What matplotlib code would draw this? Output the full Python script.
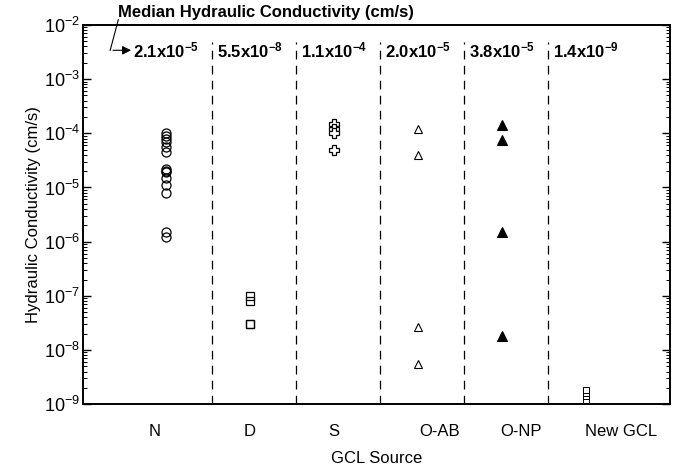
import numpy as np
import matplotlib.pyplot as plt
from matplotlib.ticker import LogLocator, NullFormatter
import matplotlib.transforms as mtransforms

plt.rcParams['font.family'] = ['Liberation Sans', 'DejaVu Sans']
plt.rcParams['mathtext.fontset'] = 'custom'
plt.rcParams['mathtext.rm'] = 'Liberation Sans'
plt.rcParams['mathtext.bf'] = 'Liberation Sans:bold'
plt.rcParams['mathtext.it'] = 'Liberation Sans:italic'

# data (cm/s)
sources = ['N', 'D', 'S', 'O-AB', 'O-NP', 'New GCL']
k_N = [1.0e-4, 9.0e-5, 8.0e-5, 7.0e-5, 5.5e-5, 4.5e-5,
       2.2e-5, 2.0e-5, 1.9e-5, 1.5e-5, 1.1e-5, 8.0e-6,
       1.5e-6, 1.2e-6]
k_D = [1.0e-7, 8.0e-8, 3.0e-8, 3.0e-8]
k_S = [1.5e-4, 1.2e-4, 1.0e-4, 5.0e-5]
k_OAB = [1.2e-4, 4.0e-5, 2.7e-8, 5.5e-9]
k_ONP = [1.4e-4, 7.5e-5, 1.5e-6, 1.8e-8]
k_new = [1.2e-9, 1.4e-9, 1.6e-9, 1.85e-9]
medians = ['2.1', '5.5', '1.1', '2.0', '3.8', '1.4']
median_exp = ['-5', '-8', '-4', '-5', '-5', '-9']

xpos = np.arange(1, len(sources) + 1)
# the category names are not quite centred under the points in the original
label_pos = xpos + np.array([-0.13, 0.0, 0.0, 0.26, 0.23, 0.42])

fig = plt.figure(figsize=(6.76, 4.70), dpi=100)
ax = fig.add_axes([0.123, 0.14, 0.868, 0.807])

styles = [
    dict(marker='o', mfc='none', mec='k', ms=6.5, mew=0.9),
    dict(marker='s', mfc='none', mec='k', ms=6, mew=0.9),
    dict(marker='P', mfc='white', mec='k', ms=7.5, mew=0.9),
    dict(marker='^', mfc='none', mec='k', ms=5.5, mew=0.8),
    dict(marker='^', mfc='k', mec='k', ms=6.5, mew=0.8),
    dict(marker='s', mfc='white', mec='k', ms=4.5, mew=0.7),
]
series = [k_N, k_D, k_S, k_OAB, k_ONP, k_new]
for x, vals, st in zip(xpos, series, styles):
    ax.plot([x] * len(vals), vals, ls='none', **st)

# section dividers
for x in xpos[:-1]:
    ax.axvline(x + 0.55, ymin=0, ymax=0.955, color='k', lw=0.9,
               ls=(0, (7, 5)))

ax.set_yscale('log')
ax.set_ylim(1e-9, 1e-2)
ax.set_xlim(0.02, 7.0)
ax.set_xticks(label_pos)
ax.set_xticklabels(sources, fontsize=12)
ax.tick_params(axis='x', length=0, pad=14)
ax.yaxis.set_major_locator(LogLocator(base=10, numticks=12))
ax.yaxis.set_minor_locator(LogLocator(base=10, subs=np.arange(2, 10), numticks=12))
ax.yaxis.set_minor_formatter(NullFormatter())
ax.tick_params(axis='y', which='both', direction='in', right=True,
               labelsize=13, pad=2)
ax.tick_params(axis='y', which='major', length=6, width=1)
ax.tick_params(axis='y', which='minor', length=3, width=0.7)
for sp in ax.spines.values():
    sp.set_linewidth(1.4)

ax.set_xlabel('GCL Source', fontsize=12, labelpad=9)
ax.set_ylabel('Hydraulic Conductivity (cm/s)', fontsize=12, labelpad=2)

# median values along the top
trans = mtransforms.blended_transform_factory(ax.transData, ax.transAxes)
for x, m, e in zip(xpos, medians, median_exp):
    ax.text(x, 0.933, r'$\mathbf{%sx10^{%s}}$' % (m, e), transform=trans,
            ha='center', va='center', fontsize=12)

fig.text(0.175, 0.973, 'Median Hydraulic Conductivity (cm/s)',
         fontsize=12, fontweight='bold', ha='left', va='center')
fig.add_artist(plt.Line2D([0.175, 0.163], [0.958, 0.893], color='k', lw=0.8))
ax.annotate('', xy=(0.198, 0.893), xytext=(0.163, 0.893),
            xycoords='figure fraction', textcoords='figure fraction',
            arrowprops=dict(arrowstyle='-|>', color='k', lw=0.8,
                            mutation_scale=13))

fig.savefig('out.png', dpi=100)
